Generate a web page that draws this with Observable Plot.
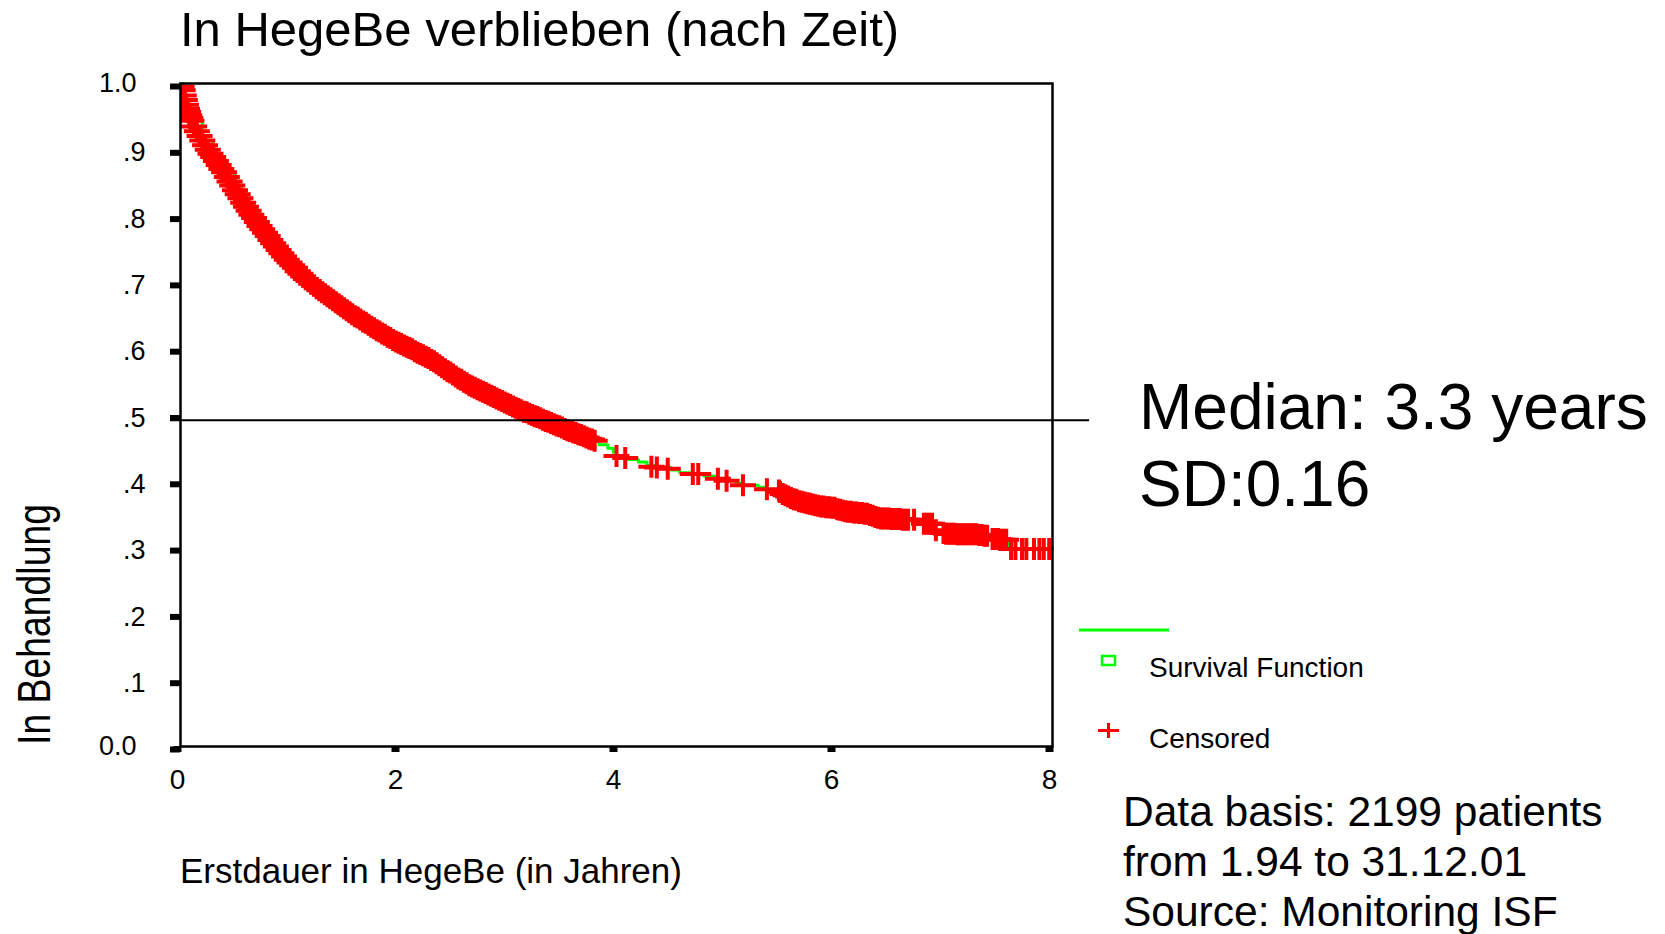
<!DOCTYPE html>
<html>
<head>
<meta charset="utf-8">
<script src="https://cdn.jsdelivr.net/npm/d3@7"></script>
<script src="https://cdn.jsdelivr.net/npm/@observablehq/plot@0.6"></script>
<style>
  html, body { margin: 0; padding: 0; background: #fff; }
  #page { position: relative; width: 1665px; height: 934px; overflow: hidden; background: #fff; }
  #chart, #notes { position: absolute; left: 0; top: 0; }
  #notes text { font-family: "Liberation Sans", Arial, Helvetica, sans-serif; fill: #000; }
</style>
</head>
<body>
<div id="page">
  <div id="chart"></div>
  <svg id="notes" width="1665" height="934"></svg>
</div>
<script>
// ---------- texts ----------
const titleText = "In HegeBe verblieben (nach Zeit)";
const xLabelText = "Erstdauer in HegeBe (in Jahren)";
const yLabelText = "In Behandlung";
const statLines = ["Median: 3.3 years", "SD:0.16"];
const legendLabels = ["Survival Function", "Censored"];
const sourceLines = ["Data basis: 2199 patients", "from 1.94 to 31.12.01", "Source: Monitoring ISF"];

// ---------- axes ----------
const xTicks = [0, 2, 4, 6, 8];
const yTicks = [0, 0.1, 0.2, 0.3, 0.4, 0.5, 0.6, 0.7, 0.8, 0.9, 1.0];
const yTickLabels = ["0.0", ".1", ".2", ".3", ".4", ".5", ".6", ".7", ".8", ".9", "1.0"];
const medianRef = [0.492];

// ---------- Kaplan-Meier survival function (steps) ----------
const survTime = [0, 0.02, 0.04, 0.06, 0.1, 0.2, 0.3, 0.4, 0.5, 0.6, 0.7, 0.8, 0.9, 1.0, 1.1, 1.2, 1.3, 1.4, 1.5, 1.6, 1.7, 1.8, 1.9,
  2.0, 2.1, 2.2, 2.3, 2.4, 2.5, 2.6, 2.7, 2.8, 2.9, 3.0, 3.1, 3.2, 3.3, 3.4, 3.5, 3.6, 3.7, 3.8,
  3.84, 3.92, 3.97, 3.99, 4.10, 4.20, 4.28, 4.35, 4.50, 4.58, 4.68, 4.80, 4.90, 5.00, 5.10, 5.15, 5.30, 5.36, 5.45,
  5.5, 5.6, 5.7, 5.8, 5.9, 6.0, 6.1, 6.2, 6.3, 6.4, 6.5, 6.6, 6.7, 6.8, 6.92, 7.0, 7.1, 7.2, 7.4, 7.44, 7.6, 8.0];
const survProb = [1.0, 0.99, 0.975, 0.962, 0.944, 0.914, 0.889, 0.866, 0.839, 0.814, 0.791, 0.77, 0.749, 0.73, 0.713, 0.698, 0.685, 0.673, 0.661, 0.649, 0.639, 0.628, 0.618,
  0.609, 0.601, 0.592, 0.583, 0.572, 0.561, 0.55, 0.541, 0.533, 0.525, 0.517, 0.509, 0.502, 0.495, 0.488, 0.481, 0.474, 0.468, 0.461,
  0.455, 0.45, 0.444, 0.438, 0.433, 0.429, 0.424, 0.421, 0.417, 0.413, 0.411, 0.408, 0.404, 0.401, 0.397, 0.394, 0.391, 0.388, 0.386,
  0.384, 0.375, 0.369, 0.365, 0.362, 0.36, 0.355, 0.353, 0.351, 0.345, 0.344, 0.343, 0.342, 0.336, 0.326, 0.322, 0.321, 0.32, 0.318, 0.313, 0.298, 0.298];

// ---------- censored observations ----------
const censTime = [
  0.01, 0.02, 0.03, 0.04, 0.05, 0.06, 0.07, 0.08, 0.09,
  0.100, 0.125, 0.150, 0.175, 0.200, 0.225, 0.250, 0.275, 0.300, 0.325, 0.350, 0.375, 0.400, 0.425, 0.450, 0.475,
  0.500, 0.525, 0.550, 0.575, 0.600, 0.625, 0.650, 0.675, 0.700, 0.725, 0.750, 0.775, 0.800, 0.825, 0.850, 0.875,
  0.900, 0.925, 0.950, 0.975, 1.000, 1.025, 1.050, 1.075, 1.100, 1.125, 1.150, 1.175, 1.200, 1.225, 1.250, 1.275,
  1.300, 1.325, 1.350, 1.375, 1.400, 1.425, 1.450, 1.475, 1.500, 1.525, 1.550, 1.575, 1.600, 1.625, 1.650, 1.675,
  1.700, 1.725, 1.750, 1.775, 1.800, 1.825, 1.850, 1.875, 1.900, 1.925, 1.950, 1.975, 2.000, 2.025, 2.050, 2.075,
  2.100, 2.125, 2.150, 2.175, 2.200, 2.225, 2.250, 2.275, 2.300, 2.325, 2.350, 2.375, 2.400, 2.425, 2.450, 2.475,
  2.500, 2.525, 2.550, 2.575, 2.600, 2.625, 2.650, 2.675, 2.700, 2.725, 2.750, 2.775, 2.800, 2.825, 2.850, 2.875,
  2.900, 2.925, 2.950, 2.975, 3.000, 3.025, 3.050, 3.075, 3.100, 3.125, 3.150, 3.175, 3.200, 3.225, 3.250, 3.275,
  3.300, 3.325, 3.350, 3.375, 3.400, 3.425, 3.450, 3.475, 3.500, 3.525, 3.550, 3.575, 3.600, 3.625, 3.650, 3.675,
  3.700, 3.725, 3.750, 3.775, 3.800,
  4.00, 4.08, 4.32, 4.37, 4.47, 4.70, 4.75, 4.93, 5.01, 5.16, 5.38, 5.49,
  5.500, 5.525, 5.550, 5.575, 5.600, 5.625, 5.650, 5.675, 5.700, 5.725, 5.750, 5.775, 5.800, 5.825, 5.850, 5.875,
  5.900, 5.925, 5.950, 5.975, 6.000, 6.025, 6.050, 6.075, 6.100, 6.125, 6.150, 6.175, 6.200, 6.225, 6.250, 6.275,
  6.300, 6.325, 6.350, 6.375, 6.400, 6.425, 6.450, 6.475, 6.500, 6.525, 6.550, 6.575, 6.600, 6.625, 6.650, 6.675,
  6.73, 6.82, 6.845, 6.87, 6.895, 6.93, 7.00, 7.025, 7.05, 7.075, 7.10, 7.125, 7.15, 7.175, 7.20, 7.225, 7.25, 7.275,
  7.30, 7.325, 7.35, 7.375, 7.40, 7.45, 7.475, 7.50, 7.525, 7.55, 7.575,
  7.62, 7.66, 7.72, 7.76, 7.83, 7.88, 7.92, 7.97];
const censProb = [
  0.995, 0.99, 0.982, 0.975, 0.968, 0.962, 0.957, 0.952, 0.948,
  0.944, 0.935, 0.928, 0.921, 0.914, 0.907, 0.900, 0.894, 0.889, 0.883, 0.877, 0.871, 0.866, 0.859, 0.852, 0.846,
  0.839, 0.833, 0.827, 0.820, 0.814, 0.808, 0.802, 0.797, 0.791, 0.785, 0.780, 0.775, 0.770, 0.764, 0.759, 0.754,
  0.749, 0.744, 0.739, 0.734, 0.730, 0.726, 0.722, 0.717, 0.713, 0.709, 0.705, 0.702, 0.698, 0.695, 0.691, 0.688,
  0.685, 0.682, 0.679, 0.676, 0.673, 0.670, 0.667, 0.664, 0.661, 0.658, 0.655, 0.652, 0.649, 0.647, 0.644, 0.641,
  0.639, 0.636, 0.633, 0.631, 0.628, 0.626, 0.623, 0.621, 0.618, 0.616, 0.613, 0.611, 0.609, 0.607, 0.605, 0.603,
  0.601, 0.599, 0.596, 0.594, 0.592, 0.590, 0.588, 0.586, 0.583, 0.581, 0.578, 0.575, 0.572, 0.569, 0.566, 0.564,
  0.561, 0.558, 0.555, 0.553, 0.550, 0.548, 0.545, 0.543, 0.541, 0.539, 0.537, 0.535, 0.533, 0.531, 0.529, 0.527,
  0.525, 0.523, 0.521, 0.519, 0.517, 0.515, 0.513, 0.511, 0.509, 0.507, 0.505, 0.504, 0.502, 0.500, 0.498, 0.497,
  0.495, 0.493, 0.491, 0.490, 0.488, 0.486, 0.484, 0.483, 0.481, 0.479, 0.477, 0.476, 0.474, 0.473, 0.471, 0.470,
  0.468, 0.466, 0.464, 0.463, 0.461,
  0.438, 0.435, 0.422, 0.421, 0.419, 0.411, 0.411, 0.404, 0.401, 0.394, 0.388, 0.386,
  0.384, 0.381, 0.379, 0.377, 0.375, 0.373, 0.372, 0.370, 0.369, 0.368, 0.367, 0.366, 0.365, 0.364, 0.363, 0.362,
  0.362, 0.361, 0.361, 0.360, 0.360, 0.358, 0.357, 0.356, 0.355, 0.354, 0.354, 0.353, 0.353, 0.352, 0.352, 0.351,
  0.351, 0.349, 0.348, 0.346, 0.345, 0.344, 0.344, 0.344, 0.344, 0.343, 0.343, 0.343, 0.343, 0.342, 0.342, 0.342,
  0.342, 0.336, 0.336, 0.336, 0.336, 0.326, 0.322, 0.321, 0.321, 0.321, 0.321, 0.320, 0.320, 0.320, 0.320, 0.320, 0.320, 0.320,
  0.320, 0.319, 0.319, 0.318, 0.318, 0.313, 0.313, 0.313, 0.312, 0.312, 0.312,
  0.298, 0.298, 0.298, 0.298, 0.298, 0.298, 0.298, 0.298];

const km = survTime.map((t, i) => ({t, s: survProb[i]}));
const cens = censTime.map((t, i) => ({t, s: censProb[i]}));

const RED = "#ff0000", GREEN = "#00ff00";
const FONT = "'Liberation Sans', Arial, Helvetica, sans-serif";

// censor marker: wide "+"
const plusMark = {
  draw(ctx) {
    ctx.moveTo(-13, 0); ctx.lineTo(13, 0);
    ctx.moveTo(0, -11); ctx.lineTo(0, 11);
  }
};

const chart = Plot.plot({
  width: 1665,
  height: 934,
  marginLeft: 180,
  marginRight: 613,
  marginTop: 83,
  marginBottom: 188,
  x: {domain: [0, 8]},
  y: {domain: [0, 1]},
  style: {fontFamily: FONT, fontSize: "27px", color: "#000", background: "transparent", overflow: "visible"},
  marks: [
    Plot.line(km, {x: "t", y: "s", curve: "step-after", stroke: GREEN, strokeWidth: 3}),
    Plot.dot(cens, {x: "t", y: "s", symbol: plusMark, r: 5, stroke: RED, fill: "none", strokeWidth: 4, clip: true}),
    Plot.ruleY(medianRef, {x1: -0.09, x2: 8.34, stroke: "#000", strokeWidth: 2}),
    Plot.frame({stroke: "#000", strokeWidth: 2.5}),
    Plot.axisX({ticks: xTicks, tickSize: 6, tickPadding: 17, strokeWidth: 8, label: null, fontSize: 28, dx: -3, tickFormat: d => String(d)}),
    // tick marks + labels ".1" … ".9"
    Plot.axisY({ticks: yTicks, tickSize: 10, tickPadding: 25, strokeWidth: 6, label: null, fontSize: 27, dy: 3,
      tickFormat: (d, i) => (d === 0 || d === 1) ? "" : yTickLabels[i]}),
    // labels "0.0" and "1.0"
    Plot.axisY({ticks: [yTicks[0], yTicks[10]], tickSize: 0, tickPadding: 44, label: null, fontSize: 27,
      tickFormat: (d, i) => i === 0 ? yTickLabels[0] : yTickLabels[10]})
  ]
});
document.getElementById("chart").append(chart);

// ---------- annotations & legend ----------
const notes = d3.select("#notes");
notes.append("text").attr("x", 180).attr("y", 46).attr("font-size", 49).text(titleText);
notes.append("text").attr("x", 180).attr("y", 883).attr("font-size", 35).text(xLabelText);
notes.append("text")
  .attr("transform", "translate(50,745) rotate(-90)")
  .attr("font-size", 47)
  .attr("textLength", 241)
  .attr("lengthAdjust", "spacingAndGlyphs")
  .text(yLabelText);
statLines.forEach((s, i) => {
  notes.append("text").attr("x", 1139).attr("y", 429 + i * 77).attr("font-size", 64).text(s);
});
sourceLines.forEach((s, i) => {
  notes.append("text").attr("x", 1123).attr("y", 826 + i * 50).attr("font-size", 42.5).text(s);
});
// legend
notes.append("line").attr("x1", 1079).attr("x2", 1169).attr("y1", 630).attr("y2", 630)
  .attr("stroke", GREEN).attr("stroke-width", 3);
notes.append("rect").attr("x", 1102).attr("y", 656).attr("width", 13).attr("height", 9)
  .attr("fill", "none").attr("stroke", GREEN).attr("stroke-width", 2.5);
notes.append("path").attr("d", "M1098,730.5H1119M1108.5,723V738")
  .attr("stroke", RED).attr("stroke-width", 3).attr("fill", "none");
legendLabels.forEach((s, i) => {
  notes.append("text").attr("x", 1149).attr("y", 677 + i * 71).attr("font-size", 28).text(s);
});
</script>
</body>
</html>
